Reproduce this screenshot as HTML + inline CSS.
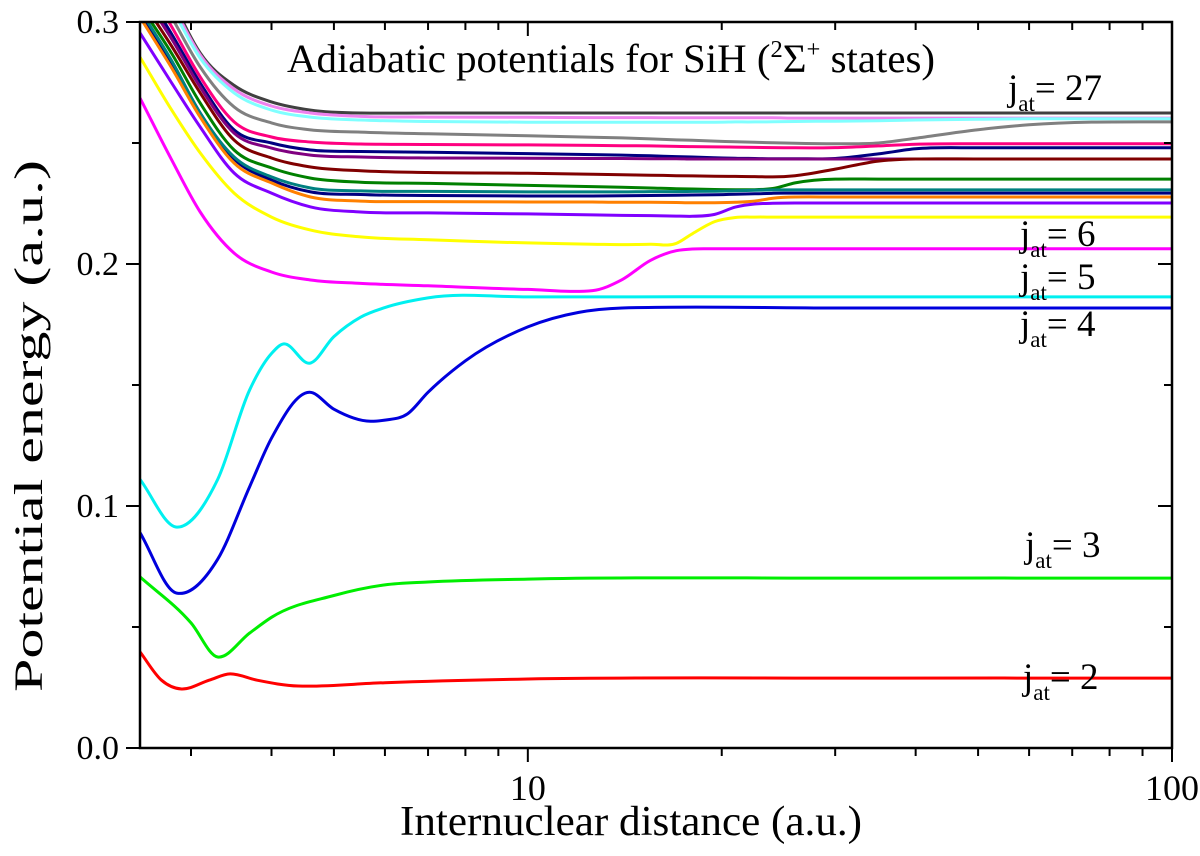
<!DOCTYPE html>
<html><head><meta charset="utf-8"><style>
html,body{margin:0;padding:0;background:#fff;}
svg{display:block;font-family:"Liberation Serif",serif;}
</style></head><body>
<svg id="chart" width="1200" height="856" viewBox="0 0 1200 856" xmlns="http://www.w3.org/2000/svg">
<defs><clipPath id="plotclip"><rect x="140" y="22" width="1032" height="726"/></clipPath></defs>
<g id="curves" clip-path="url(#plotclip)"></g>
<g id="axes"></g>
<text x="287" y="72" font-size="40" textLength="648" lengthAdjust="spacingAndGlyphs">Adiabatic potentials for SiH (<tspan font-size="24" dy="-15">2</tspan><tspan dy="15">Σ</tspan><tspan font-size="24" dy="-15">+</tspan><tspan dy="15"> states)</tspan></text>
<text x="400" y="835" font-size="42" textLength="462" lengthAdjust="spacingAndGlyphs">Internuclear distance (a.u.)</text>
<text transform="translate(42,692) rotate(-90)" font-size="40" textLength="532" lengthAdjust="spacingAndGlyphs">Potential energy (a.u.)</text>
<text x="1008" y="100" font-size="37">j<tspan font-size="23" dy="11">at</tspan><tspan dy="-11">= 27</tspan></text>
<text x="1020" y="246" font-size="37">j<tspan font-size="23" dy="11">at</tspan><tspan dy="-11">= 6</tspan></text>
<text x="1020" y="289" font-size="37">j<tspan font-size="23" dy="11">at</tspan><tspan dy="-11">= 5</tspan></text>
<text x="1020" y="336" font-size="37">j<tspan font-size="23" dy="11">at</tspan><tspan dy="-11">= 4</tspan></text>
<text x="1025" y="557" font-size="37">j<tspan font-size="23" dy="11">at</tspan><tspan dy="-11">= 3</tspan></text>
<text x="1023" y="689" font-size="37">j<tspan font-size="23" dy="11">at</tspan><tspan dy="-11">= 2</tspan></text>
</svg>
<script>
// ---- data ----
const xTickValues = [10, 100];
const xTickLabels = ["10", "100"];
const yTickValues = [0.0, 0.1, 0.2, 0.3];
const yTickLabels = ["0.0", "0.1", "0.2", "0.3"];

const rJ2 = [2.5, 2.7, 2.9, 3.2, 3.45, 3.8, 4.4, 6, 10, 30, 100];
const vJ2 = [0.0397, 0.028, 0.0244, 0.028, 0.0306, 0.028, 0.0256, 0.027, 0.0285, 0.0289, 0.0289];
const rJ3 = [2.5, 3.0, 3.3, 3.7, 4, 5, 6, 7, 10, 30, 100];
const vJ3 = [0.0707, 0.0517, 0.0376, 0.0475, 0.054, 0.063, 0.0674, 0.0686, 0.0698, 0.0702, 0.0702];
const rJ4 = [2.5, 2.85, 3.3, 3.7, 4.0, 4.58, 5.0, 5.7, 6.0, 6.5, 7, 8, 10, 12, 14, 30, 100];
const vJ4 = [0.089, 0.064, 0.078, 0.108, 0.128, 0.147, 0.140, 0.135, 0.1355, 0.138, 0.147, 0.160, 0.174, 0.180, 0.1818, 0.1818, 0.1818];
const rJ5 = [2.5, 2.85, 3.3, 3.7, 4.0, 4.18, 4.58, 5, 5.5, 6, 7, 10, 30, 100];
const vJ5 = [0.111, 0.0913, 0.111, 0.148, 0.163, 0.167, 0.159, 0.170, 0.178, 0.182, 0.186, 0.1864, 0.1864, 0.1864];

const rUp = [2.5, 2.8, 3.1, 3.5, 4, 4.6, 5.5, 7, 10, 12.6, 14, 15.5, 17, 18, 19.5, 21, 22.5, 24, 26, 30, 35, 40, 50, 60, 100];
const vMagenta = [0.2686,0.243,0.2215,0.2045,0.1967,0.1934,0.192,0.191,0.1895,0.189,0.1935,0.2015,0.2055,0.2062,0.2063,0.2063,0.2063,0.2063,0.2063,0.2063,0.2063,0.2063,0.2063,0.2063,0.2063];
const vYellow = [0.2855,0.2636,0.2459,0.2293,0.2194,0.214,0.2112,0.21,0.2087,0.2082,0.208,0.2082,0.2085,0.2125,0.2175,0.2192,0.2194,0.2194,0.2194,0.2194,0.2194,0.2194,0.2194,0.2194,0.2194];
const vViolet = [0.2955,0.2748,0.2566,0.2376,0.2293,0.2236,0.2215,0.2211,0.2207,0.2203,0.2201,0.22,0.2198,0.2197,0.2205,0.2235,0.2248,0.2251,0.2252,0.2252,0.2252,0.2252,0.2252,0.2252,0.2252];
const vOrange = [0.302,0.281,0.2607,0.2417,0.2335,0.2277,0.226,0.2258,0.2256,0.2256,0.2255,0.2255,0.2254,0.2253,0.2253,0.2255,0.226,0.2272,0.2277,0.2277,0.2277,0.2277,0.2277,0.2277,0.2277];
const vNavy2 = [0.304,0.283,0.2624,0.2434,0.2347,0.2298,0.2287,0.2283,0.2281,0.2281,0.2282,0.2283,0.2284,0.2285,0.2286,0.2288,0.229,0.2292,0.2293,0.2293,0.2293,0.2293,0.2293,0.2293,0.2293];
const vTeal = [0.305,0.284,0.2624,0.2442,0.236,0.2314,0.2302,0.23,0.2298,0.2298,0.2298,0.2299,0.2299,0.23,0.2301,0.2303,0.2305,0.2306,0.2306,0.2306,0.2306,0.2306,0.2306,0.2306,0.2306];
const vGreen = [0.307,0.287,0.2665,0.2471,0.2397,0.2355,0.2338,0.2333,0.2325,0.232,0.2317,0.2314,0.2311,0.231,0.2308,0.2307,0.2307,0.2312,0.2335,0.2351,0.2351,0.2351,0.2351,0.2351,0.2351];
const vMaroon = [0.31,0.29,0.2707,0.2512,0.2438,0.2401,0.2385,0.2378,0.2375,0.2371,0.2369,0.2367,0.2365,0.2364,0.2363,0.2362,0.2361,0.236,0.2365,0.2392,0.2425,0.2434,0.2434,0.2434,0.2434];
const vPurple = [0.313,0.293,0.2731,0.2541,0.2479,0.245,0.2442,0.2438,0.2437,0.2436,0.2436,0.2435,0.2435,0.2434,0.2434,0.2434,0.2434,0.2434,0.2434,0.2434,0.2434,0.2434,0.2434,0.2434,0.2434];
const vNavy = [0.316,0.295,0.2748,0.2554,0.25,0.2471,0.2465,0.2462,0.2456,0.2452,0.245,0.2447,0.2444,0.2442,0.2439,0.2437,0.2436,0.2435,0.2435,0.2436,0.2455,0.2476,0.248,0.248,0.248];
const vPink = [0.32,0.298,0.2773,0.2587,0.2525,0.2504,0.2496,0.2494,0.2492,0.249,0.2489,0.2488,0.2486,0.2485,0.2484,0.2483,0.2482,0.2481,0.248,0.2481,0.2488,0.2495,0.2497,0.2497,0.2497];
const vGrey = [0.325,0.302,0.2814,0.2649,0.2583,0.2554,0.2545,0.2538,0.253,0.2524,0.2521,0.2517,0.2513,0.2511,0.2508,0.2505,0.2503,0.2501,0.2499,0.2497,0.25,0.252,0.2555,0.2575,0.2587];
const vLightCyan = [0.33,0.306,0.2851,0.2707,0.2636,0.2607,0.2595,0.2589,0.2586,0.2586,0.2586,0.2586,0.2586,0.2586,0.2586,0.2587,0.2587,0.2588,0.2589,0.259,0.2592,0.2595,0.2598,0.26,0.26];
const vLightViolet = [0.335,0.308,0.2864,0.2723,0.2653,0.2624,0.261,0.2607,0.2606,0.2605,0.2605,0.2605,0.2604,0.2604,0.2604,0.2604,0.2604,0.2604,0.2603,0.2603,0.2603,0.2603,0.2603,0.2603,0.2603];
const vDarkGrey = [0.34,0.31,0.2872,0.2738,0.267,0.2636,0.2624,0.2624,0.2624,0.2624,0.2624,0.2624,0.2624,0.2624,0.2624,0.2624,0.2624,0.2624,0.2624,0.2624,0.2624,0.2624,0.2624,0.2624,0.2624];

const series = [
  {name:"curve-j2", r:rJ2, v:vJ2, color:"#ff0000"},
  {name:"curve-j3", r:rJ3, v:vJ3, color:"#00ee00"},
  {name:"curve-j4", r:rJ4, v:vJ4, color:"#0000dd"},
  {name:"curve-j5", r:rJ5, v:vJ5, color:"#00f0f0"},
  {name:"curve-magenta", r:rUp, v:vMagenta, color:"#ff00ff"},
  {name:"curve-yellow", r:rUp, v:vYellow, color:"#ffff00"},
  {name:"curve-violet", r:rUp, v:vViolet, color:"#8000ff"},
  {name:"curve-orange", r:rUp, v:vOrange, color:"#ff8000"},
  {name:"curve-teal", r:rUp, v:vTeal, color:"#008080"},
  {name:"curve-navy2", r:rUp, v:vNavy2, color:"#000080"},
  {name:"curve-green", r:rUp, v:vGreen, color:"#008000"},
  {name:"curve-maroon", r:rUp, v:vMaroon, color:"#800000"},
  {name:"curve-purple", r:rUp, v:vPurple, color:"#800080"},
  {name:"curve-navy", r:rUp, v:vNavy, color:"#000080"},
  {name:"curve-pink", r:rUp, v:vPink, color:"#ff0080"},
  {name:"curve-grey", r:rUp, v:vGrey, color:"#808080"},
  {name:"curve-light-cyan", r:rUp, v:vLightCyan, color:"#80ffff"},
  {name:"curve-light-violet", r:rUp, v:vLightViolet, color:"#ee82ee"},
  {name:"curve-dark-grey", r:rUp, v:vDarkGrey, color:"#404040"}
];

// ---- scales ----
const X0 = 140, X1 = 1172, Y0 = 748, Y1 = 22;
const rMin = 2.5, rMax = 100, vMin = 0, vMax = 0.3;
function xs(r){ return X0 + (Math.log10(r) - Math.log10(rMin)) / (Math.log10(rMax) - Math.log10(rMin)) * (X1 - X0); }
function ys(v){ return Y0 - (v - vMin) / (vMax - vMin) * (Y0 - Y1); }

const NS = "http://www.w3.org/2000/svg";
function mk(tag, attrs, parent){ const e = document.createElementNS(NS, tag); for (const k in attrs) e.setAttribute(k, attrs[k]); parent.appendChild(e); return e; }

function pathFor(r, v){
  const X = r.map(xs), Y = v.map(ys), n = X.length;
  const m = new Array(n);
  m[0] = (Y[1]-Y[0])/(X[1]-X[0]);
  m[n-1] = 0;
  for (let i=1;i<n-1;i++){
    const dl = (Y[i]-Y[i-1])/(X[i]-X[i-1]), dr = (Y[i+1]-Y[i])/(X[i+1]-X[i]);
    const hl = X[i]-X[i-1], hr = X[i+1]-X[i];
    m[i] = (dl*hr + dr*hl)/(hl+hr);
    if (dl*dr <= 0) m[i] *= 0.4;
  }
  let s = "M"+X[0].toFixed(1)+","+Y[0].toFixed(1);
  for (let i=0;i<n-1;i++){
    const h = X[i+1]-X[i];
    s += " C"+(X[i]+h/3).toFixed(1)+","+(Y[i]+m[i]*h/3).toFixed(1)+" "+(X[i+1]-h/3).toFixed(1)+","+(Y[i+1]-m[i+1]*h/3).toFixed(1)+" "+X[i+1].toFixed(1)+","+Y[i+1].toFixed(1);
  }
  return s;
}

const cg = document.getElementById("curves");
for (let i = series.length - 1; i >= 0; i--) {
  const s = series[i];
  const el = mk("path", {d: pathFor(s.r, s.v), fill:"none", stroke:s.color, "stroke-width":3, "stroke-linejoin":"round"}, cg);
  
  
}

// ---- axes ----
const ag = document.getElementById("axes");
const frame = mk("rect", {x:X0, y:Y1, width:X1-X0, height:Y0-Y1, fill:"none", stroke:"#000", "stroke-width":2.5}, ag);



const minorX = [3,4,5,6,7,8,9,20,30,40,50,60,70,80,90];
minorX.forEach(r=>{
  const x = xs(r);
  const t1 = mk("line", {x1:x, y1:Y0, x2:x, y2:Y0+8, stroke:"#000","stroke-width":2}, ag);
  
  
  const t2 = mk("line", {x1:x, y1:Y1, x2:x, y2:Y1+8, stroke:"#000","stroke-width":2}, ag);
  
  
});
xTickValues.forEach((r,i)=>{
  const x = xs(r);
  const t1 = mk("line", {x1:x, y1:Y0, x2:x, y2:Y0+14, stroke:"#000","stroke-width":2}, ag);
  
  
  const t2 = mk("line", {x1:x, y1:Y1, x2:x, y2:Y1+14, stroke:"#000","stroke-width":2}, ag);
  
  
  const lb = mk("text", {x:x, y:800, "font-size":36, "text-anchor":"middle"}, ag);
  lb.textContent = xTickLabels[i];
  
  
});
[0.05,0.15,0.25].forEach(v=>{
  const y = ys(v);
  const t1 = mk("line", {x1:X0-8, y1:y, x2:X0, y2:y, stroke:"#000","stroke-width":2}, ag);
  
  
  const t2 = mk("line", {x1:X1-8, y1:y, x2:X1, y2:y, stroke:"#000","stroke-width":2}, ag);
  
  
});
yTickValues.forEach((v,i)=>{
  const y = ys(v);
  const t1 = mk("line", {x1:X0-14, y1:y, x2:X0, y2:y, stroke:"#000","stroke-width":2}, ag);
  
  
  const t2 = mk("line", {x1:X1-14, y1:y, x2:X1, y2:y, stroke:"#000","stroke-width":2}, ag);
  
  
  const lb = mk("text", {x:119, y:y+11, "font-size":34, "text-anchor":"end"}, ag);
  lb.textContent = yTickLabels[i];
  
  
});
</script>
</body></html>
